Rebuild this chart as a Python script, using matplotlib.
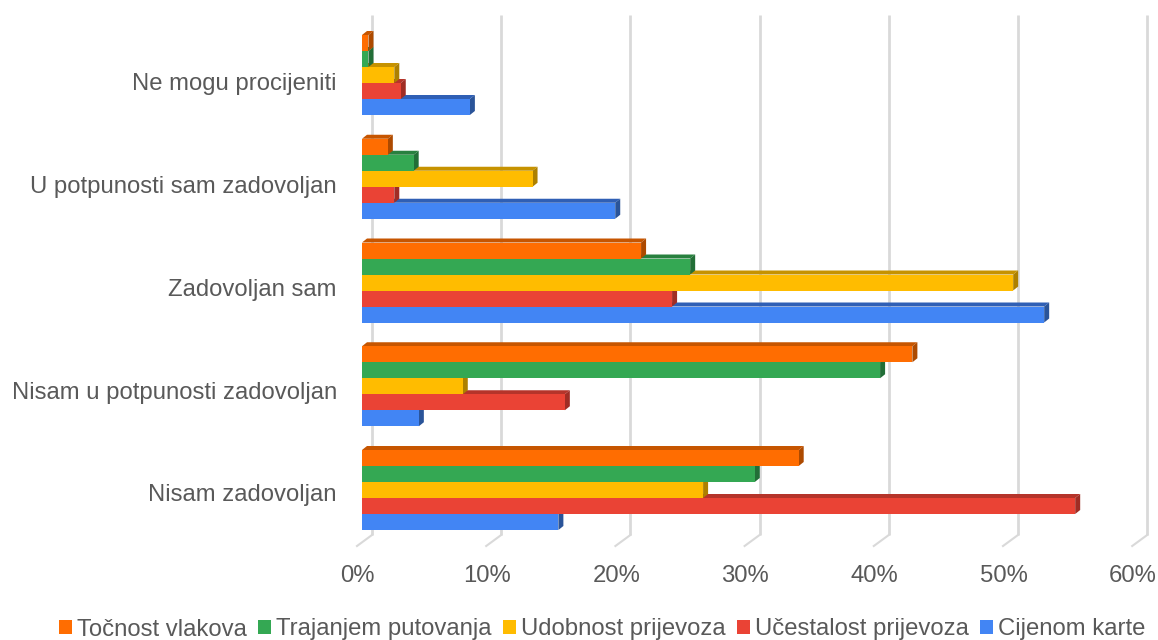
#!/usr/bin/env python3
# -*- coding: utf-8 -*-
import matplotlib
matplotlib.use('Agg')
import matplotlib.pyplot as plt
from matplotlib.patches import Patch, Polygon

plt.rcParams['font.family'] = ['Liberation Sans', 'DejaVu Sans']

categories = ['Nisam zadovoljan', 'Nisam u potpunosti zadovoljan', 'Zadovoljan sam',
              'U potpunosti sam zadovoljan', 'Ne mogu procijeniti']
ticks = [0, 10, 20, 30, 40, 50, 60]
tick_labels = ['0%', '10%', '20%', '30%', '40%', '50%', '60%']

cijena = [15.2, 4.4, 52.8, 19.6, 8.35]
ucestalost = [55.2, 15.7, 24.0, 2.5, 3.0]
udobnost = [26.4, 7.8, 50.4, 13.2, 2.5]
trajanje = [30.4, 40.1, 25.4, 4.0, 0.5]
tocnost = [33.8, 42.6, 21.6, 2.0, 0.5]

# odozdo prema gore: plava prva, narančasta zadnja (prekriva gornje plohe)
series = [
    ('Cijenom karte', cijena, '#4285F4', '#2F5FB5', '#2A5499'),
    ('Učestalost prijevoza', ucestalost, '#EA4335', '#B5342A', '#A02D24'),
    ('Udobnost prijevoza', udobnost, '#FFBC00', '#C69200', '#AD8000'),
    ('Trajanjem putovanja', trajanje, '#34A853', '#28803F', '#226E37'),
    ('Točnost vlakova', tocnost, '#FF6D01', '#C65500', '#AD4A00'),
]

W, H = 1158, 640
PX_X = 12.92    # px po postotku
PITCH = 103.75  # px između grupa
BAR_PX = 16
X0, TOP, BOTTOM = 362, 15, 535
Y0 = 490        # središte donje grupe, px

fig = plt.figure(figsize=(W / 100, H / 100), dpi=100)
ax = fig.add_axes([X0 / W, 1 - BOTTOM / H, 60 * PX_X / W, (BOTTOM - TOP) / H])
ax.set_xlim(0, 60)
ax.set_ylim(-(BOTTOM - Y0) / PITCH, (Y0 - TOP) / PITCH)
ax.axis('off')

dx, dy = 5 / PX_X, 4 / PITCH
bar_h = BAR_PX / PITCH
ymin, ymax = ax.get_ylim()

# mreža na stražnjem zidu i dijagonale na podu
for t, lab in zip(ticks, tick_labels):
    gx = t + 10 / PX_X
    ax.plot([gx, gx], [ymin, ymax], color='#D9D9D9', lw=2.0, clip_on=False, zorder=1,
            solid_capstyle='butt')
    ax.plot([gx, gx - 15 / PX_X], [ymin, ymin - 11 / PITCH], color='#D9D9D9', lw=1.5,
            clip_on=False, zorder=1)
    ax.annotate(lab, xy=(t, ymin), xytext=(-3, -40.5 * 0.72), textcoords='offset points',
                ha='center', va='center', fontsize=17.2, color='#595959', annotation_clip=False)

# kategorije
for i, c in enumerate(categories):
    ax.annotate(c, xy=(0, i), xytext=(-25 * 0.72, -(5.5 + i * 0.9) * 0.72), textcoords='offset points',
                ha='right', va='center', fontsize=17.2, color='#595959', annotation_clip=False)

# stupci s 3D rubom
z = 3
n = len(series)
for k, (name, vals, col, top_col, side_col) in enumerate(series):
    for i, v in enumerate(vals):
        yb = i - n * bar_h / 2 + k * bar_h
        yt = yb + bar_h
        ax.add_patch(Polygon([(0, yt), (dx, yt + dy), (v + dx, yt + dy), (v, yt)],
                             closed=True, fc=top_col, ec='none', zorder=z, clip_on=False))
        ax.add_patch(Polygon([(v, yb), (v + dx, yb + dy), (v + dx, yt + dy), (v, yt)],
                             closed=True, fc=side_col, ec='none', zorder=z, clip_on=False))
        ax.barh(i - n * bar_h / 2 + (k + 0.5) * bar_h, v, height=bar_h, color=col,
                zorder=z + 0.5, clip_on=False)
        z += 1

handles = [Patch(fc=s[2], ec='none') for s in reversed(series)]
labels = [s[0] for s in reversed(series)]
fig.legend(handles, labels, loc='center', bbox_to_anchor=(602 / W, 1 - 629.5 / H), ncol=5,
           frameon=False, fontsize=17.2, labelcolor='#595959', handlelength=0.55, handleheight=0.55,
           handletextpad=0.21, columnspacing=0.47, borderpad=0, borderaxespad=0)

fig.savefig('out.png', dpi=100)
plt.close(fig)
